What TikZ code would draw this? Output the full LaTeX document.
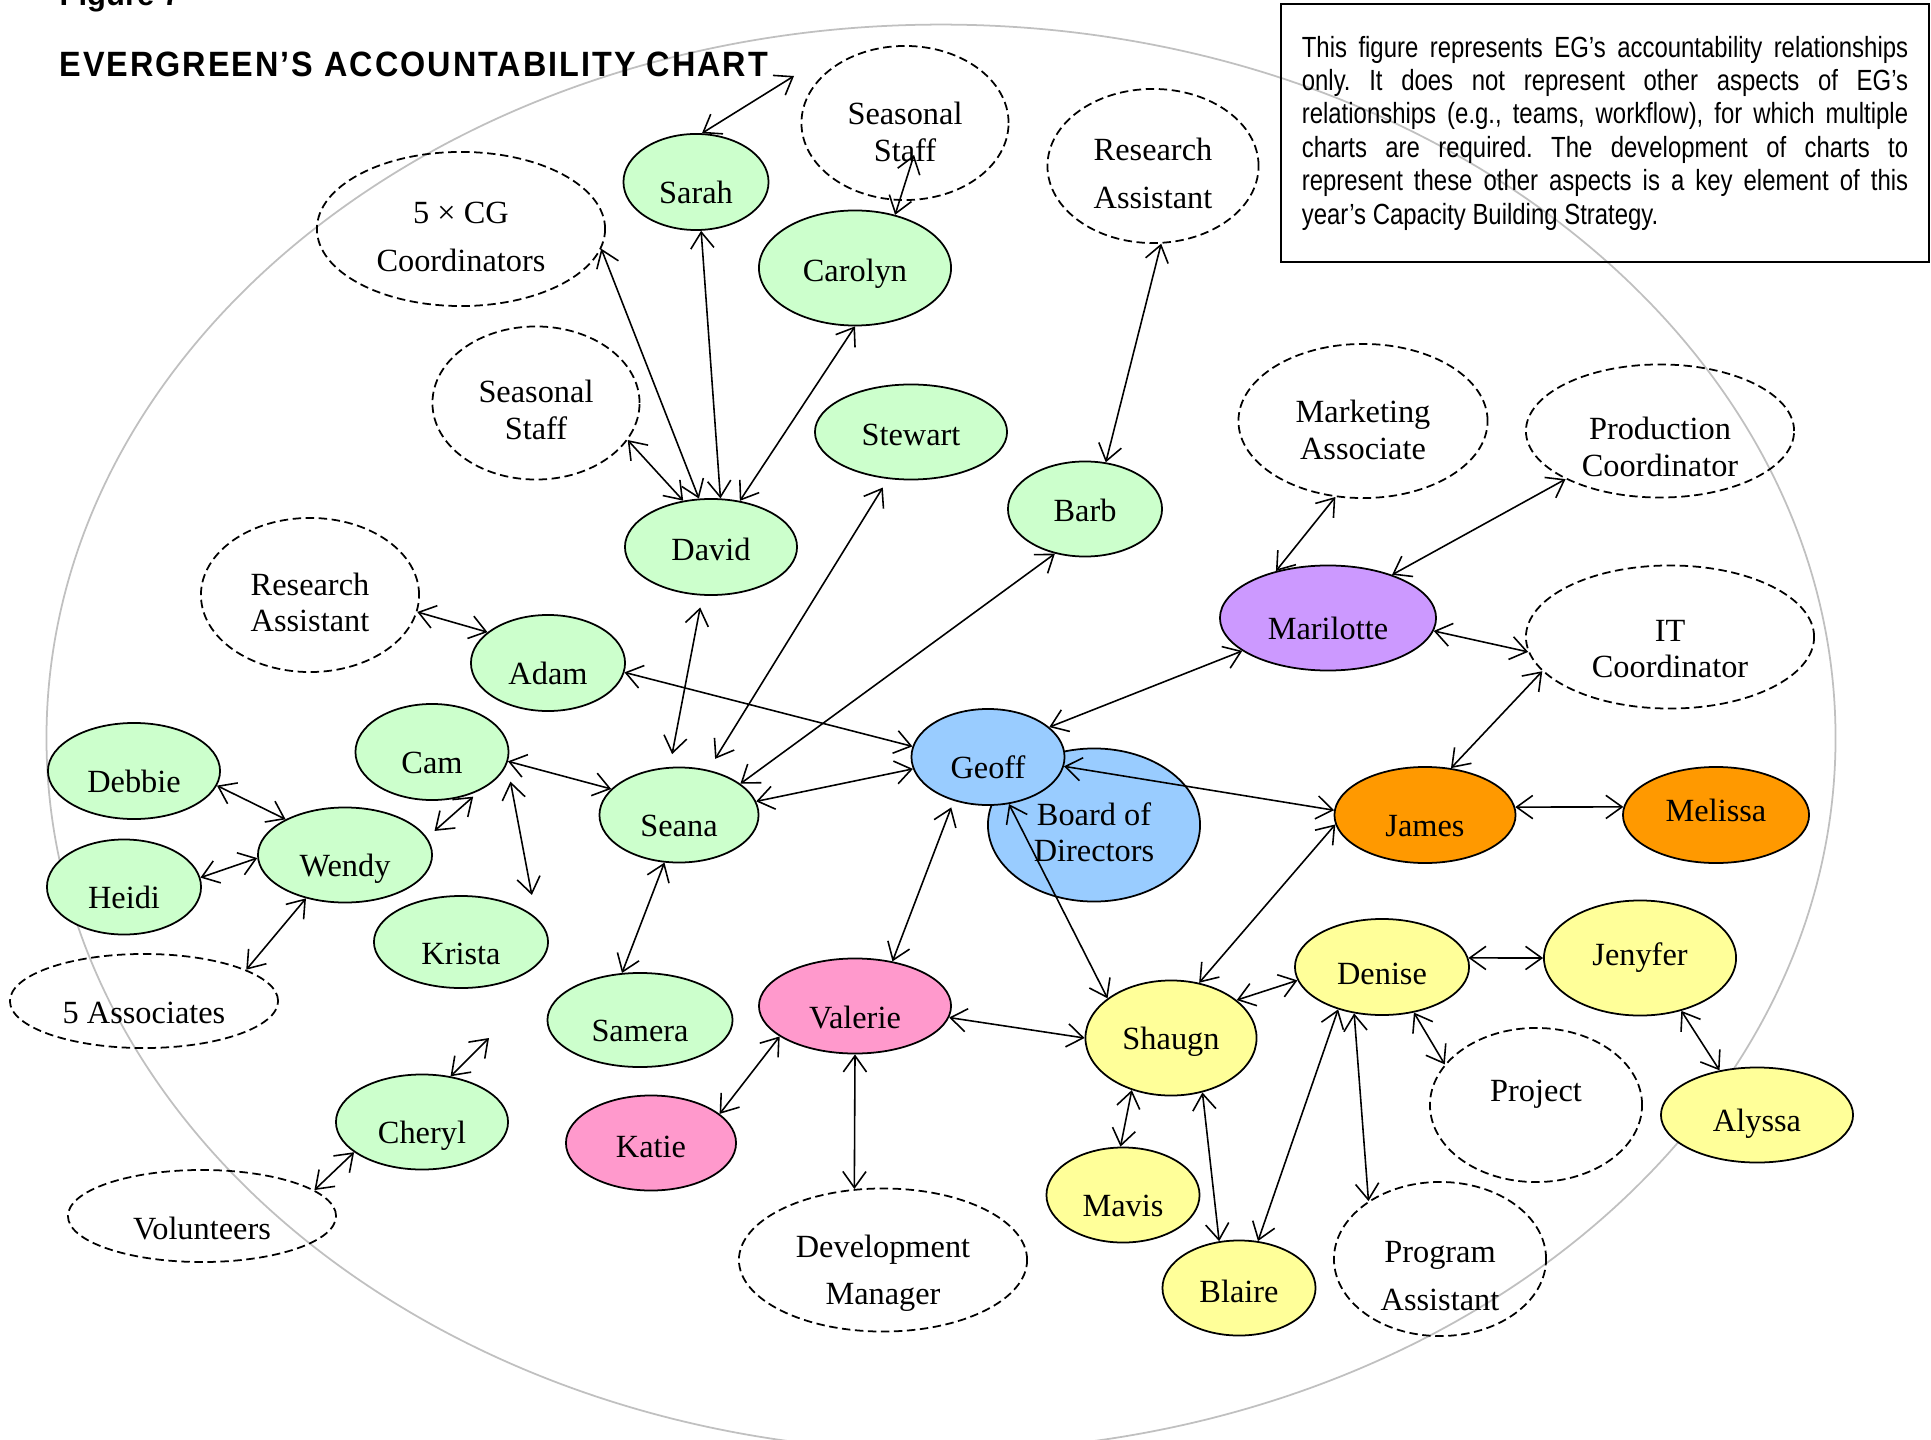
\documentclass[tikz,border=0pt]{standalone}
\usepackage{fontspec}
\usepackage{xcolor}
\usepackage{tikz}
\usetikzlibrary{shapes.geometric,arrows.meta}
\setmainfont{Liberation Serif}
\newfontfamily\notefont[FakeStretch=0.82]{Liberation Sans}
\newfontfamily\headfont{Liberation Sans}
\newfontfamily\titlefont[FakeStretch=0.92, LetterSpace=5.7]{Liberation Sans}

\definecolor{sgreen}{HTML}{CCFFCC}
\definecolor{sblue}{HTML}{99CCFF}
\definecolor{spurple}{HTML}{CC99FF}
\definecolor{sorange}{HTML}{FF9900}
\definecolor{spink}{HTML}{FF99CC}
\definecolor{syellow}{HTML}{FFFF99}
\definecolor{rimgray}{HTML}{C0C0C0}

\begin{document}
\begin{tikzpicture}[x=0.01cm, y=-0.01cm,
  >={Straight Barb[length=4.6pt,width=6.6pt]},
  sz/.style 2 args={minimum width=#1cm, minimum height=#2cm},
  person/.style={ellipse, draw, line width=0.5pt, inner xsep=0pt, inner ysep=-6pt, align=center,
    font=\fontsize{9.2}{10.5}\selectfont, text height=12pt, text depth=0pt},
  staff/.style={person, fill=#1},
  role/.style={person, dash pattern=on 2.4pt off 1.3pt},
  link/.style={<->, line width=0.45pt}]
\useasboundingbox (0,0) rectangle (1931,1440);

% outer ring
\draw[rimgray, line width=0.5pt] (941,738) ellipse [x radius=8.94cm, y radius=7.13cm];

% heading and note
\node[anchor=base west, inner sep=0pt, font=\headfont\bfseries\fontsize{8.8}{10}\selectfont] (figlabel) at (59,6) {Figure 7};
\node[anchor=base west, inner sep=0pt, font=\titlefont\bfseries\fontsize{10}{12}\selectfont] (title) at (59,77) {EVERGREEN’S ACCOUNTABILITY CHART};
\node[draw, line width=0.6pt, text width=6.06cm, inner xsep=0.21cm, minimum height=2.58cm, align=justify,
  font=\notefont\fontsize{8.3}{9.5}\selectfont\frenchspacing] (note) at (1605,133)
  {This figure represents EG’s accountability relationships\linebreak
   only. It does not represent other aspects of EG’s\linebreak
   relationships (e.g., teams, workflow), for which multiple\linebreak
   charts are required. The development of charts to\linebreak
   represent these other aspects is a key element of this\linebreak
   year’s Capacity Building Strategy.};

% open positions
\node[role, sz={2.88}{1.54}, text height=24pt] (cg) at (461,229) {5 × CG\\[3pt]Coordinators};
\node[role, sz={2.07}{1.53}, text height=20.7pt] (ssleft) at (536,403) {Seasonal\\Staff};
\node[role, sz={2.07}{1.54}, text height=21.7pt] (sstop) at (905,123) {Seasonal\\Staff};
\node[role, sz={2.11}{1.54}, text height=24pt] (ratop) at (1153,166) {Research\\[3pt]Assistant};
\node[role, sz={2.18}{1.54}, text height=21pt] (raleft) at (310,595) {Research\\Assistant};
\node[role, sz={2.49}{1.54}, text height=21.7pt] (mktassoc) at (1363,421) {Marketing\\Associate};
\node[role, sz={2.68}{1.33}, text height=25.8pt] (prodcoord) at (1660,431) {Production\\Coordinator};
\node[role, sz={2.88}{1.43}, text height=23.3pt] (itcoord) at (1670,637) {IT\\Coordinator};
\node[role, sz={2.68}{0.94}, text height=12.7pt] (assoc) at (144,1001) {5 Associates};
\node[role, sz={2.68}{0.92}, text height=13.4pt] (volunteers) at (202,1216) {Volunteers};
\node[role, sz={2.88}{1.43}, text height=25.5pt] (devmgr) at (883,1260) {Development\\[3pt]Manager};
\node[role, sz={2.12}{1.54}, text height=0pt, text depth=2.1pt] (project) at (1536,1105) {Project};
\node[role, sz={2.12}{1.54}, text height=29.2pt] (progasst) at (1440,1259) {Program\\[3pt]Assistant};

% staff
\node[staff=sgreen, sz={1.45}{0.96}] (sarah) at (696,182) {Sarah};
\node[staff=sgreen, sz={1.92}{1.15}, text height=7.9pt] (carolyn) at (855,268) {Carolyn};
\node[staff=sgreen, sz={1.92}{0.95}, text height=7.8pt] (stewart) at (911,432) {Stewart};
\node[staff=sgreen, sz={1.72}{0.96}, text height=7.8pt] (david) at (711,547) {David};
\node[staff=sgreen, sz={1.54}{0.95}, text height=7.1pt] (barb) at (1085,509) {Barb};
\node[staff=sgreen, sz={1.54}{0.96}] (adam) at (548,663) {Adam};
\node[staff=sgreen, sz={1.53}{0.96}] (cam) at (432,752) {Cam};
\node[staff=sgreen, sz={1.59}{0.95}] (seana) at (679,815) {Seana};
\node[staff=sgreen, sz={1.72}{0.96}] (debbie) at (134,771) {Debbie};
\node[staff=sgreen, sz={1.74}{0.95}] (wendy) at (345,855) {Wendy};
\node[staff=sgreen, sz={1.54}{0.95}] (heidi) at (124,887) {Heidi};
\node[staff=sgreen, sz={1.74}{0.92}, text height=12.7pt] (krista) at (461,942) {Krista};
\node[staff=sgreen, sz={1.85}{0.94}] (samera) at (640,1020) {Samera};
\node[staff=sgreen, sz={1.72}{0.95}] (cheryl) at (422,1122) {Cheryl};
\node[staff=sblue, sz={2.12}{1.53}, text height=21pt] (board) at (1094,825) {Board of\\Directors};
\node[staff=sblue, sz={1.53}{0.96}] (geoff) at (988,757) {Geoff};
\node[staff=spurple, sz={2.16}{1.05}] (marilotte) at (1328,618) {Marilotte};
\node[staff=sorange, sz={1.81}{0.96}] (james) at (1425,815) {James};
\node[staff=sorange, sz={1.86}{0.96}, text height=3.6pt] (melissa) at (1716,815) {Melissa};
\node[staff=spink, sz={1.92}{0.95}, text height=12.7pt] (valerie) at (855,1006) {Valerie};
\node[staff=spink, sz={1.70}{0.95}, text height=8.5pt] (katie) at (651,1143) {Katie};
\node[staff=syellow, sz={1.71}{1.15}, text height=6.5pt] (shaugn) at (1171,1038) {Shaugn};
\node[staff=syellow, sz={1.74}{0.96}, text height=9.9pt] (denise) at (1382,967) {Denise};
\node[staff=syellow, sz={1.92}{1.15}, text height=4.4pt] (jenyfer) at (1640,958) {Jenyfer};
\node[staff=syellow, sz={1.92}{0.95}, text height=9.3pt] (alyssa) at (1757,1115) {Alyssa};
\node[staff=syellow, sz={1.53}{0.95}] (mavis) at (1123,1195) {Mavis};
\node[staff=syellow, sz={1.53}{0.95}, text height=8.5pt] (blaire) at (1239,1288) {Blaire};

% loose ends
\coordinate (sarahtop) at (794,76);
\coordinate (sstopin) at (914,155);
\coordinate (cherylup) at (489,1038);

% accountability links
\draw[link] (sarah.83) -- (sarahtop);
\draw[link] (sstopin) -- (carolyn.53);
\draw[link] (cg.-8) -- (david.104);
\draw[link] (sarah.-84) -- (david.79);
\draw[link] (carolyn.-90) -- (david.58);
\draw[link] (ssleft.-22) -- (david.121);
\draw[link, shorten <=0.1cm, shorten >=0.13cm] (stewart.-116) -- (seana.57);
\draw[link] (ratop.-84) -- (barb.66);
\draw[link] (barb.-124) -- (seana.27);
\draw[link, shorten <=0.12cm, shorten >=0.13cm] (david.-100) -- (seana.101);
\draw[link] (raleft.-9) -- (adam.153);
\draw[link] (adam.-7) -- (geoff.172);
\draw[link] (cam.-7) -- (seana.159);
\draw[link, shorten <=0.18cm, shorten >=0.23cm] (cam.-9) -- (krista.18);
\draw[link, shorten <=0.1cm, shorten >=0.1cm] (cam.-38) -- (wendy.12);
\draw[link] (debbie.-10) -- (wendy.149);
\draw[link] (heidi.7) -- (wendy.182);
\draw[link] (wendy.-132) -- (assoc.17);
\draw[link] (cheryl.58) -- (cherylup);
\draw[link] (cheryl.-156) -- (volunteers.13);
\draw[link] (seana.10) -- (geoff.189);
\draw[link] (seana.-107) -- (samera.111);
\draw[link] (geoff.26) -- (marilotte.201);
\draw[link] (marilotte.138) -- (mktassoc.-110);
\draw[link] (marilotte.34) -- (prodcoord.-153);
\draw[link] (marilotte.-7) -- (itcoord.186);
\draw[link] (itcoord.195) -- (james.61);
\draw[link] (geoff.-7) -- (james.177);
\draw[link] (james.5) -- (melissa.175);
\draw[link, shorten <=0.07cm] (geoff.-128) -- (valerie.50);
\draw[link] (geoff.-66) -- (shaugn.148);
\draw[link] (james.186) -- (shaugn.63);
\draw[link] (valerie.-7) -- (shaugn.180);
\draw[link] (valerie.-158) -- (katie.23);
\draw[link] (valerie.-90) -- (devmgr.112);
\draw[link] (shaugn.30) -- (denise.189);
\draw[link] (denise.6) -- (jenyfer.180);
\draw[link] (jenyfer.-52) -- (alyssa.130);
\draw[link] (denise.-55) -- (project.156);
\draw[link] (denise.-121) -- (progasst.141);
\draw[link] (denise.-136) -- (blaire.68);
\draw[link] (shaugn.-127) -- (mavis.93);
\draw[link] (shaugn.-60) -- (blaire.113);
\end{tikzpicture}
\end{document}
